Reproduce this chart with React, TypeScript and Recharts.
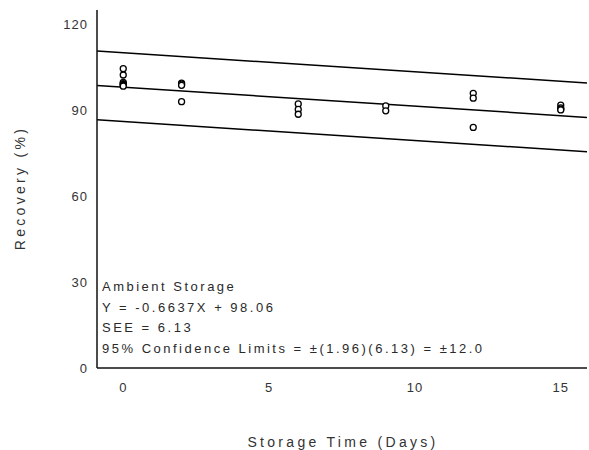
import React from 'react';
import { ComposedChart, Scatter, Line, XAxis, YAxis } from 'recharts';

// storage days and measured recovery (%) at each day
const DAYS = [0, 2, 6, 9, 12, 15];
const RECOVERY = [
  [104.5, 102.3, 99.7, 99.3, 99.0, 98.7, 98.4],
  [99.5, 99.1, 98.7, 93],
  [92.2, 90.3, 88.6],
  [91.5, 89.8],
  [95.9, 94.2, 84],
  [91.8, 90.8, 90.4, 90.1],
];

const X_TICKS = [0, 5, 10, 15];
const Y_TICKS = [0, 30, 60, 90, 120];
const X_DOMAIN = [-0.9, 15.9];

// regression stats printed on the chart
const SLOPE = -0.6637;
const INTERCEPT = 98.06;
const LIMIT = 12.0;

const NOTE_LINES = [
  'Ambient Storage',
  'Y = -0.6637X + 98.06',
  'SEE = 6.13',
  '95% Confidence Limits = \u00b1(1.96)(6.13) = \u00b112.0',
];

const points = DAYS.flatMap((d, i) => RECOVERY[i].map((v) => ({ x: d, y: v })));

const fitLine = (shift: number) =>
  X_DOMAIN.map((x) => ({ x, y: SLOPE * x + INTERCEPT + shift }));

const FONT = '"Liberation Sans", Arial, sans-serif';
const tickStyle = { fontFamily: FONT, fontSize: 13, fill: '#333', letterSpacing: 1 };

const OpenDot = ({ cx, cy }: any) => (
  <circle cx={cx} cy={cy} r={3} fill="#fff" stroke="#000" strokeWidth={1.3} />
);

export default function App() {
  return (
    <div style={{ position: 'absolute', left: 0, top: 0, width: 589, height: 450, background: '#fff', fontFamily: FONT }}>
      <ComposedChart width={589} height={450} margin={{ top: 10, right: 2, bottom: 0, left: 10 }}>
        <XAxis
          xAxisId={0}
          type="number"
          dataKey="x"
          domain={X_DOMAIN}
          ticks={X_TICKS}
          allowDataOverflow
          height={82}
          tickSize={0}
          tickLine={false}
          tickMargin={15}
          axisLine={{ stroke: '#111', strokeWidth: 1.5 }}
          tick={tickStyle}
        />
        <XAxis
          xAxisId="top"
          orientation="top"
          type="number"
          domain={X_DOMAIN}
          allowDataOverflow
          height={0}
          tick={false}
          tickLine={false}
          axisLine={{ stroke: '#444', strokeWidth: 1.5 }}
        />
        <YAxis
          yAxisId={0}
          type="number"
          dataKey="y"
          domain={[0, 125]}
          ticks={Y_TICKS}
          allowDataOverflow
          width={87}
          tickSize={0}
          tickLine={false}
          tickMargin={9}
          axisLine={{ stroke: '#111', strokeWidth: 1.5 }}
          tick={tickStyle}
        />
        <YAxis
          yAxisId="right"
          orientation="right"
          type="number"
          domain={[0, 125]}
          width={0}
          tick={false}
          tickLine={false}
          axisLine={{ stroke: '#444', strokeWidth: 1.5 }}
        />
        <Line data={fitLine(LIMIT)} dataKey="y" stroke="#000" strokeWidth={1.5} dot={false} isAnimationActive={false} />
        <Line data={fitLine(0)} dataKey="y" stroke="#000" strokeWidth={1.5} dot={false} isAnimationActive={false} />
        <Line data={fitLine(-LIMIT)} dataKey="y" stroke="#000" strokeWidth={1.5} dot={false} isAnimationActive={false} />
        <Scatter data={points} shape={<OpenDot />} isAnimationActive={false} />
      </ComposedChart>

      <div style={{ position: 'absolute', left: 102, top: 277, fontSize: 13, lineHeight: '20.7px', color: '#2a2a2a', letterSpacing: 2.5, whiteSpace: 'nowrap' }}>
        {NOTE_LINES.map((t) => (
          <div key={t}>{t}</div>
        ))}
      </div>

      <div style={{ position: 'absolute', left: 343, top: 442, transform: 'translate(-50%, -50%)', fontSize: 14, color: '#333', letterSpacing: 3.3, whiteSpace: 'nowrap' }}>
        Storage Time (Days)
      </div>
      <div style={{ position: 'absolute', left: 20, top: 188, transform: 'translate(-50%, -50%) rotate(-90deg)', fontSize: 14, color: '#333', letterSpacing: 3.3, whiteSpace: 'nowrap' }}>
        Recovery (%)
      </div>
    </div>
  );
}
